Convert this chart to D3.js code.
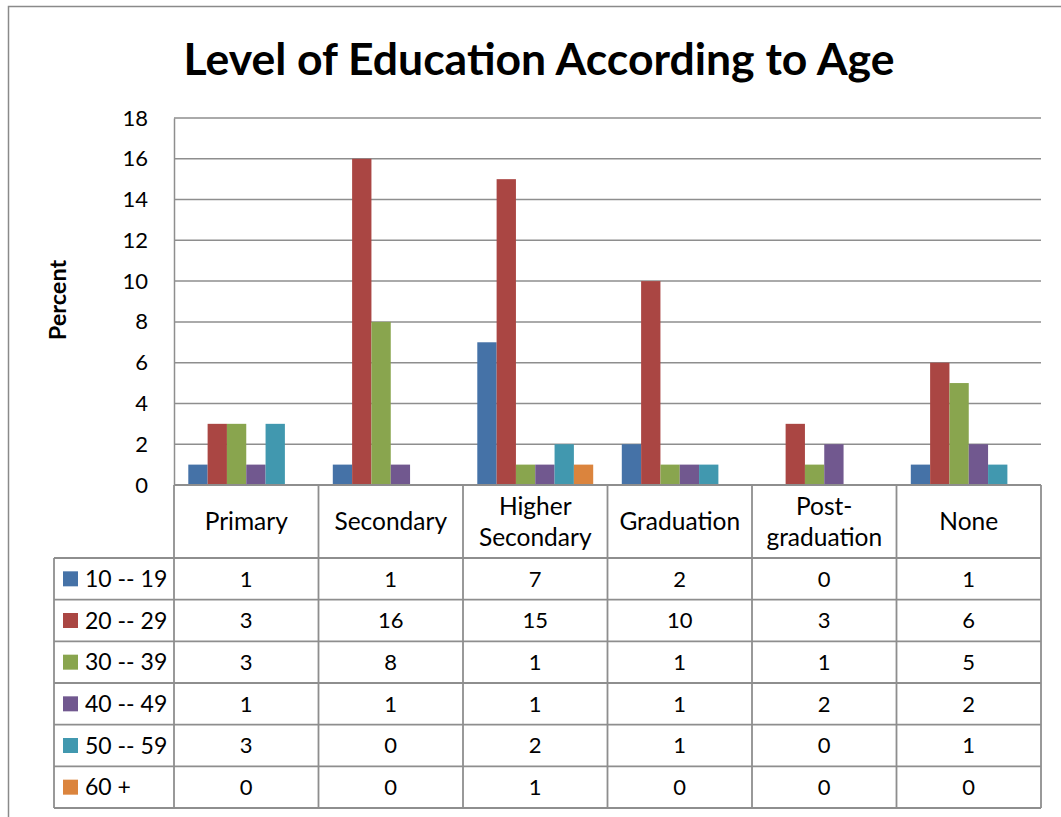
<!DOCTYPE html>
<html>
<head>
<meta charset="utf-8">
<script src="https://cdn.jsdelivr.net/npm/d3@7"></script>
<style>
  html, body { margin: 0; padding: 0; background: #fff; }
  svg { display: block; font-family: Lato, "Open Sans", sans-serif; }
</style>
</head>
<body>
<svg id="chart" width="1061" height="817"></svg>
<script>
// Education levels (columns) and age groups (series)
const categories = ["Primary", "Secondary", "Higher Secondary", "Graduation", "Post-graduation", "None"];
const categoryLines = [["Primary"], ["Secondary"], ["Higher", "Secondary"], ["Graduation"], ["Post-", "graduation"], ["None"]];
const ageGroups = ["10 -- 19", "20 -- 29", "30 -- 39", "40 -- 49", "50 -- 59", "60 +"];
const age10to19 = [1, 1, 7, 2, 0, 1];
const age20to29 = [3, 16, 15, 10, 3, 6];
const age30to39 = [3, 8, 1, 1, 1, 5];
const age40to49 = [1, 1, 1, 1, 2, 2];
const age50to59 = [3, 0, 2, 1, 0, 1];
const age60plus = [0, 0, 1, 0, 0, 0];
const yTicks = [0, 2, 4, 6, 8, 10, 12, 14, 16, 18];
const colors = ["#4572A7", "#AA4643", "#89A54E", "#71588F", "#4198AF", "#DB843D"];

const seriesValues = [age10to19, age20to29, age30to39, age40to49, age50to59, age60plus];
const series = ageGroups.map((name, i) => ({ name, values: seriesValues[i], color: colors[i] }));

const svg = d3.select("#chart");
const gridColor = "#8e8e8e";
const numSize = 22, headSize = 24.5, legendSize = 23;

// Chart area frame
svg.append("rect")
  .attr("x", 8.5).attr("y", 6.5)
  .attr("width", 1080).attr("height", 840)
  .attr("fill", "#fff").attr("stroke", "#8a8a8a").attr("stroke-width", 1.5);

// Title
svg.append("text")
  .attr("x", 539).attr("y", 75)
  .attr("text-anchor", "middle")
  .attr("font-weight", "bold").attr("font-size", 44.5)
  .text("Level of Education According to Age");

const plotLeft = 174, plotRight = 1041, plotTop = 118, plotBottom = 485;

const x = d3.scaleBand().domain(categories).range([plotLeft, plotRight]).padding(0);
const xInner = d3.scaleBand().domain(ageGroups).range([0, x.bandwidth()]).paddingInner(0).paddingOuter(0.74);
const y = d3.scaleLinear().domain([0, 18]).range([plotBottom, plotTop]);

// Horizontal gridlines
svg.append("g")
  .selectAll("line")
  .data(yTicks.filter(t => t > 0))
  .join("line")
  .attr("x1", plotLeft).attr("x2", plotRight)
  .attr("y1", d => y(d)).attr("y2", d => y(d))
  .attr("stroke", gridColor).attr("stroke-width", 1.5);

// Y axis labels
const yAxis = d3.axisLeft(y).tickValues(yTicks).tickSize(0).tickPadding(26);
const yG = svg.append("g").attr("transform", `translate(${plotLeft},0)`).call(yAxis);
yG.select(".domain").attr("stroke", gridColor).attr("stroke-width", 1.5);
yG.selectAll("text").attr("font-size", numSize).attr("fill", "#000").attr("font-family", "Lato, sans-serif");

// Y axis title
svg.append("text")
  .attr("transform", "translate(66,300) rotate(-90)")
  .attr("text-anchor", "middle")
  .attr("font-weight", "bold").attr("font-size", 23.5)
  .text("Percent");

// Bars
const groups = svg.append("g")
  .selectAll("g")
  .data(series)
  .join("g")
  .attr("fill", d => d.color);

groups.selectAll("rect")
  .data(s => s.values.map((v, i) => ({ v, cat: categories[i], name: s.name })))
  .join("rect")
  .attr("x", d => x(d.cat) + xInner(d.name))
  .attr("y", d => y(d.v))
  .attr("width", xInner.bandwidth())
  .attr("height", d => y(0) - y(d.v));

// Data table
const tableLeft = 54, headerBottom = 558, tableBottom = 808;
const rowH = (tableBottom - headerBottom) / ageGroups.length;
const table = svg.append("g").attr("stroke", gridColor).attr("stroke-width", 1.8);

// Horizontal rules of the table
table.append("line")
  .attr("x1", plotLeft).attr("x2", plotRight)
  .attr("y1", plotBottom).attr("y2", plotBottom);
d3.range(ageGroups.length + 1).forEach(i => {
  const yy = headerBottom + i * rowH;
  table.append("line").attr("x1", tableLeft).attr("x2", plotRight).attr("y1", yy).attr("y2", yy);
});

// Vertical rules of the table
categories.concat([null]).forEach((c, i) => {
  const xx = c === null ? plotRight : x(c);
  table.append("line").attr("x1", xx).attr("x2", xx).attr("y1", plotBottom).attr("y2", tableBottom);
});
table.append("line").attr("x1", tableLeft).attr("x2", tableLeft).attr("y1", headerBottom).attr("y2", tableBottom);

// Category header text
const headerMid = (plotBottom + headerBottom) / 2;
const lineH = 31;
categories.forEach((c, i) => {
  const lines = categoryLines[i];
  const t = svg.append("text")
    .attr("x", x(c) + x.bandwidth() / 2)
    .attr("text-anchor", "middle")
    .attr("font-size", headSize);
  lines.forEach((ln, j) => {
    t.append("tspan")
      .attr("x", x(c) + x.bandwidth() / 2)
      .attr("y", headerMid + (j - (lines.length - 1) / 2) * lineH)
      .attr("dy", "0.35em")
      .text(ln);
  });
});

// Legend keys and values
series.forEach((s, r) => {
  const cy = headerBottom + r * rowH + rowH / 2;
  svg.append("rect")
    .attr("x", 63).attr("y", cy - 7.5)
    .attr("width", 15).attr("height", 15)
    .attr("fill", s.color);
  svg.append("text")
    .attr("x", 85).attr("y", cy).attr("dy", "0.35em")
    .attr("font-size", legendSize)
    .text(s.name);
  s.values.forEach((v, i) => {
    svg.append("text")
      .attr("x", x(categories[i]) + x.bandwidth() / 2)
      .attr("y", cy).attr("dy", "0.35em")
      .attr("text-anchor", "middle")
      .attr("font-size", numSize)
      .text(v);
  });
});
</script>
</body>
</html>
